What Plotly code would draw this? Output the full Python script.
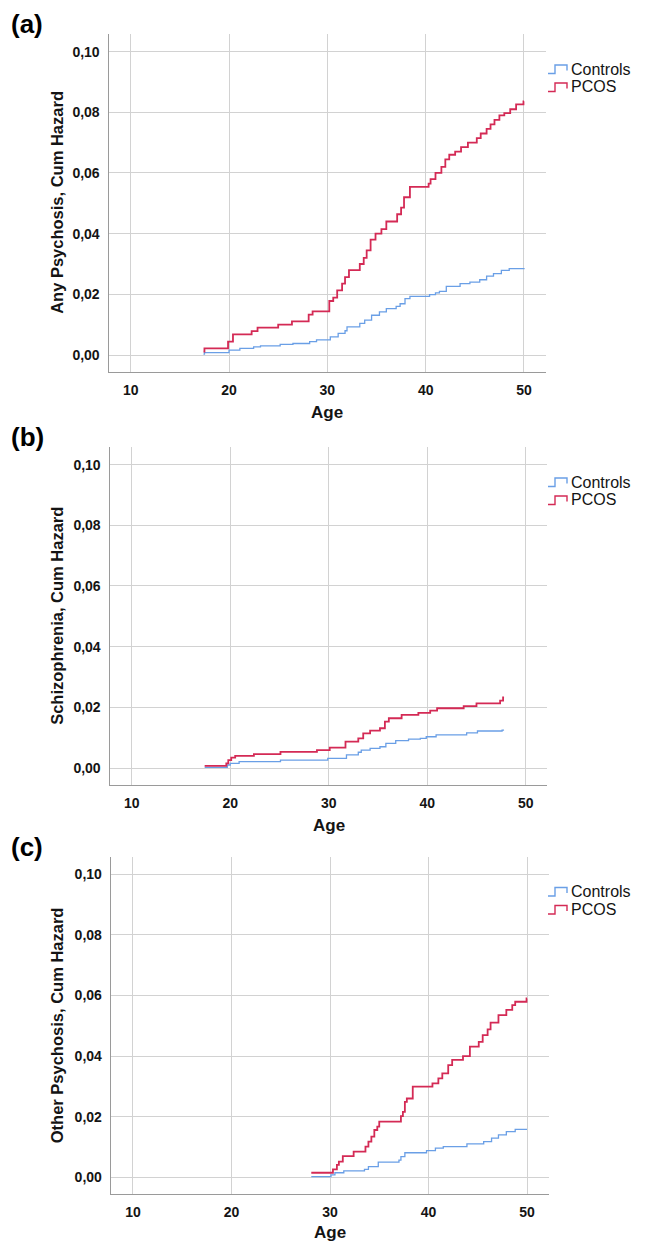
import plotly.graph_objects as go

# ---------------- data ----------------
# Panel (a) Any Psychosis
a_pcos_age = [17.4, 17.5, 19.9, 20.4, 22.3, 22.9, 25.0, 26.4, 28.1, 28.5, 30.2, 30.6, 31.0, 31.5,
              31.8, 32.2, 33.3, 33.7, 34.0, 34.4, 34.9, 35.5, 36.0, 37.1, 37.5, 37.8, 38.4, 40.3,
              40.5, 41.0, 41.6, 42.0, 42.4, 43.0, 43.6, 44.3, 45.2, 45.6, 46.2, 46.6, 47.0, 47.5,
              48.0, 48.6, 49.2, 49.95, 50.0]
a_pcos_val = [0.0011, 0.0022, 0.0044, 0.0068, 0.0079, 0.0090, 0.0100, 0.0111, 0.0133, 0.0144,
              0.0178, 0.0189, 0.0213, 0.0235, 0.0257, 0.0280, 0.0300, 0.0320, 0.0345, 0.0380,
              0.0400, 0.0415, 0.0440, 0.0464, 0.0486, 0.0520, 0.0554, 0.0565, 0.0580, 0.0600,
              0.0620, 0.0645, 0.0660, 0.0670, 0.0685, 0.0700, 0.0715, 0.0730, 0.0745, 0.0760,
              0.0775, 0.0790, 0.0797, 0.0810, 0.0826, 0.0836, 0.0836]
a_ctrl_age = [17.4, 17.5, 20.0, 21.1, 22.5, 23.2, 25.2, 26.5, 28.2, 28.9, 30.3, 31.1, 31.8, 32.0,
              33.3, 33.8, 34.5, 35.3, 36.0, 37.0, 37.4, 37.9, 38.4, 40.4, 41.0, 41.4, 42.1, 43.5,
              44.5, 45.5, 46.2, 46.9, 47.7, 48.5, 50.0]
a_ctrl_val = [0.0003, 0.0008, 0.0016, 0.0022, 0.0027, 0.0030, 0.0035, 0.0038, 0.0044, 0.0050,
              0.0060, 0.0071, 0.0080, 0.0093, 0.0104, 0.0115, 0.0131, 0.0142, 0.0153, 0.0160,
              0.0169, 0.0186, 0.0193, 0.0199, 0.0205, 0.0210, 0.0226, 0.0235, 0.0240, 0.0248,
              0.0260, 0.0268, 0.0279, 0.0285, 0.0287]

# Panel (b) Schizophrenia
b_pcos_age = [17.4, 19.6, 19.8, 20.1, 20.5, 22.4, 25.1, 28.8, 30.1, 31.7, 33.0, 33.5, 34.2, 35.2,
              35.7, 36.1, 37.4, 39.1, 40.3, 41.0, 43.7, 45.0, 47.4, 47.7, 47.8]
b_pcos_val = [0.0007, 0.0015, 0.0026, 0.0034, 0.0040, 0.0046, 0.0053, 0.0059, 0.0067, 0.0087,
              0.0098, 0.0114, 0.0123, 0.0131, 0.0153, 0.0164, 0.0175, 0.0182, 0.0189, 0.0197,
              0.0204, 0.0213, 0.0222, 0.0233, 0.0233]
b_ctrl_age = [17.4, 19.7, 20.0, 20.9, 25.1, 29.9, 31.8, 33.0, 33.3, 34.2, 35.2, 35.8, 36.8, 38.1,
              39.3, 39.9, 40.9, 44.0, 45.1, 47.6, 47.8]
b_ctrl_val = [0.0002, 0.0010, 0.0015, 0.0021, 0.0026, 0.0032, 0.0043, 0.0052, 0.0059, 0.0065,
              0.0070, 0.0081, 0.0090, 0.0095, 0.0098, 0.0103, 0.0109, 0.0116, 0.0122, 0.0125,
              0.0125]

# Panel (c) Other Psychosis
c_pcos_age = [28.1, 30.3, 30.7, 30.9, 31.3, 32.4, 33.6, 33.9, 34.2, 34.5, 34.8, 35.0, 37.2, 37.4,
              37.6, 37.8, 38.4, 40.4, 41.0, 41.4, 42.0, 42.4, 43.5, 44.2, 45.1, 45.5, 46.0, 46.3,
              47.1, 47.9, 48.5, 48.8, 49.95, 50.0]
c_pcos_val = [0.0015, 0.0026, 0.0041, 0.0052, 0.0070, 0.0085, 0.0101, 0.0118, 0.0134, 0.0156,
              0.0167, 0.0184, 0.0202, 0.0216, 0.0249, 0.0260, 0.0299, 0.0310, 0.0326, 0.0343,
              0.0370, 0.0387, 0.0400, 0.0431, 0.0447, 0.0469, 0.0488, 0.0510, 0.0535, 0.0552,
              0.0568, 0.0579, 0.0590, 0.0590]
c_ctrl_age = [28.1, 30.1, 30.5, 31.4, 33.5, 33.9, 34.9, 37.0, 37.2, 37.6, 39.8, 40.7, 41.5, 43.9,
              45.6, 46.4, 47.1, 47.9, 48.8, 50.0]
c_ctrl_val = [0.0002, 0.0008, 0.0015, 0.0021, 0.0026, 0.0035, 0.0050, 0.0057, 0.0068, 0.0081,
              0.0088, 0.0096, 0.0101, 0.0110, 0.0118, 0.0129, 0.0140, 0.0151, 0.0158, 0.0158]

panel_labels = ["(a)", "(b)", "(c)"]
y_titles = ["Any Psychosis, Cum Hazard", "Schizophrenia, Cum Hazard", "Other Psychosis, Cum Hazard"]
x_title = "Age"
series_names = ["Controls", "PCOS"]
x_ticks = [10, 20, 30, 40, 50]
y_ticks = [0.00, 0.02, 0.04, 0.06, 0.08, 0.10]

# ---------------- styling / layout ----------------
PAGE_W, PAGE_H = 646, 1243
OFF = 8                      # default page (body) margin of the html page
W, H = PAGE_W - OFF, PAGE_H - OFF
FONT = "Liberation Sans, Arial, sans-serif"
BLUE = "#6A9FE6"
RED = "#D42A55"
GRID = "#D2D2D2"
AXIS = "#9A9A9A"
TXT = "#141414"


def fx(px):
    """page pixel x -> paper fraction"""
    return (px - OFF) / W


def fy(py):
    """page pixel y -> paper fraction"""
    return 1 - (py - OFF) / H


# page-pixel boxes of the three plot areas: (left, right, top, bottom)
boxes = [(108.6, 545.6, 34.0, 371.7),
         (109.6, 547.4, 447.0, 784.7),
         (110.8, 548.7, 856.5, 1194.0)]
zero_px = [355.0, 768.0, 1177.5]   # page-pixel y of the 0,00 line in each panel
age_title_px = [412.5, 825.5, 1232.0]

data = [(a_ctrl_age, a_ctrl_val, a_pcos_age, a_pcos_val),
        (b_ctrl_age, b_ctrl_val, b_pcos_age, b_pcos_val),
        (c_ctrl_age, c_ctrl_val, c_pcos_age, c_pcos_val)]

fig = go.Figure()
layout = dict(width=W, height=H, margin=dict(l=0, r=0, t=0, b=0),
              paper_bgcolor="white", plot_bgcolor="white", showlegend=False,
              separators=",.", font=dict(family=FONT, color=TXT))
annotations = []
shapes = []

for i, (ca, cv, pa, pv) in enumerate(data):
    sfx = "" if i == 0 else str(i + 1)
    xa, ya = "x" + sfx, "y" + sfx
    fig.add_trace(go.Scatter(x=ca, y=cv, mode="lines", line=dict(color=BLUE, width=1.3, shape="hv"),
                             name=series_names[0], xaxis=xa, yaxis=ya))
    fig.add_trace(go.Scatter(x=pa, y=pv, mode="lines", line=dict(color=RED, width=1.8, shape="hv"),
                             name=series_names[1], xaxis=xa, yaxis=ya))
    l, r, t, b = boxes[i]
    layout["xaxis" + sfx] = dict(domain=[fx(l), fx(r)], range=[7.75, 52.2], anchor=ya,
                                 tickvals=x_ticks, showgrid=True, gridcolor=GRID, gridwidth=1.2,
                                 showline=True, linecolor=AXIS, linewidth=1.3, zeroline=False,
                                 ticks="", ticklabelstandoff=5,
                                 tickfont=dict(family=FONT, size=14, color=TXT, weight="bold"))
    layout["yaxis" + sfx] = dict(domain=[fy(b), fy(t)], range=[-0.0055, 0.1058], anchor=xa,
                                 tickvals=y_ticks, tickformat=".2f", showgrid=True, gridcolor=GRID,
                                 gridwidth=1.2, showline=True, linecolor=AXIS, linewidth=1.3,
                                 zeroline=False, ticks="", ticklabelstandoff=5,
                                 tickfont=dict(family=FONT, size=14, color=TXT, weight="bold"))
    # panel label
    annotations.append(dict(text=panel_labels[i], xref="paper", yref="paper", x=fx(9), y=fy(zero_px[i] - 331),
                            xanchor="left", yanchor="middle", showarrow=False,
                            font=dict(family=FONT, size=26, color="#000", weight="bold")))
    # y title
    annotations.append(dict(text=y_titles[i], xref="paper", yref="paper", x=fx(57), y=fy((t + b) / 2),
                            xanchor="center", yanchor="middle", textangle=-90, showarrow=False,
                            font=dict(family=FONT, size=16.5, color=TXT, weight="bold")))
    # x title
    annotations.append(dict(text=x_title, xref="paper", yref="paper", x=fx((l + r) / 2), y=fy(age_title_px[i]),
                            xanchor="center", yanchor="middle", showarrow=False,
                            font=dict(family=FONT, size=17, color=TXT, weight="bold")))
    # legend (step glyph + text)
    top_line = zero_px[i] - 303.5
    for k, (nm, col) in enumerate(zip(series_names, [BLUE, RED])):
        cy = top_line + 17.5 + 18 * k
        x0, x1, x2 = 548, 555, 567
        ylo, yhi = cy + 4.5, cy - 4
        path = (f"M {fx(x0)} {fy(ylo)} L {fx(x1)} {fy(ylo)} L {fx(x1)} {fy(yhi)} "
                f"L {fx(x2)} {fy(yhi)} L {fx(x2)} {fy(cy + 1.5)}")
        shapes.append(dict(type="path", path=path, xref="paper", yref="paper",
                           line=dict(color=col, width=1.4)))
        annotations.append(dict(text=nm, xref="paper", yref="paper", x=fx(569), y=fy(cy),
                                xanchor="left", yanchor="middle", showarrow=False,
                                font=dict(family=FONT, size=16, color=TXT)))

layout["annotations"] = annotations
layout["shapes"] = shapes
fig.update_layout(**layout)
fig.write_html("out.html")
